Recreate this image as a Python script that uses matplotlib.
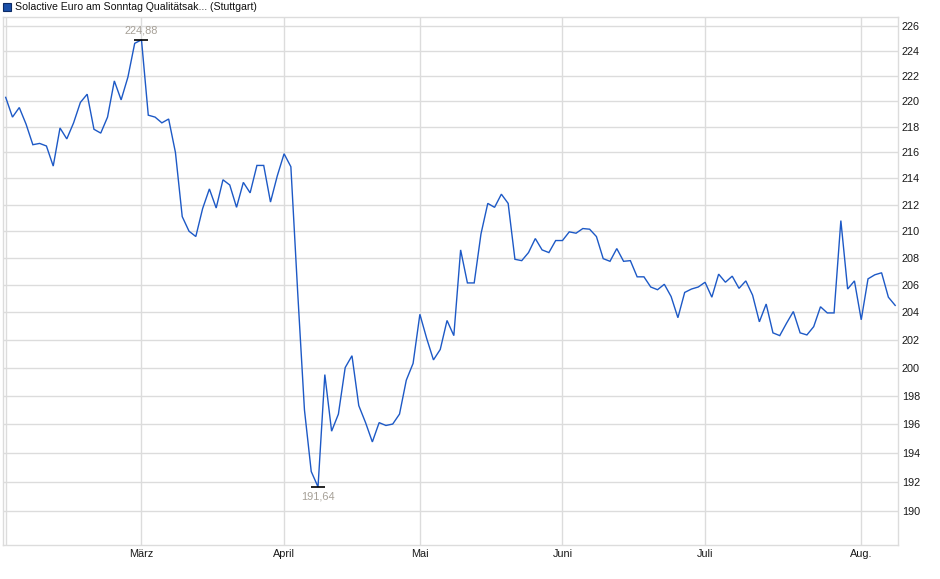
import matplotlib
matplotlib.use("Agg")
import matplotlib.pyplot as plt
from matplotlib.ticker import FixedLocator, NullLocator, NullFormatter
from matplotlib.patches import Rectangle

plt.rcParams['font.family'] = ['Liberation Sans', 'DejaVu Sans']

# ---- data (daily closes, trading days Feb 3 .. Aug 8) ----
values = [
    220.3, 218.75, 219.5, 218.2, 216.6, 216.7, 216.5, 214.95, 217.9, 217.05,
    218.3, 219.9, 220.55, 217.8, 217.5, 218.75, 221.6, 220.1, 221.9, 224.6,
    224.88, 218.9, 218.75, 218.3, 218.6, 216.0, 211.1, 210.0, 209.6, 211.7,
    213.2, 211.75, 213.9, 213.5, 211.8, 213.7, 212.9, 215.0, 215.0, 212.2,
    214.2, 215.9, 214.9, 205.5, 197.0, 192.7, 191.64, 199.5, 195.5, 196.7,
    200.0, 200.85, 197.3, 196.1, 194.75, 196.1, 195.9, 196.0, 196.7, 199.1,
    200.3, 203.85, 202.1, 200.55, 201.3, 203.4, 202.3, 208.6, 206.15, 206.15,
    209.8, 212.1, 211.8, 212.8, 212.1, 207.9, 207.8, 208.4, 209.45, 208.6,
    208.4, 209.3, 209.3, 209.95, 209.85, 210.2, 210.15, 209.6, 207.95, 207.75,
    208.7, 207.75, 207.8, 206.6, 206.6, 205.85, 205.65, 206.05, 205.15, 203.6,
    205.45, 205.7, 205.85, 206.2, 205.1, 206.8, 206.2, 206.65, 205.75, 206.3,
    205.25, 203.3, 204.6, 202.5, 202.3, 203.2, 204.05, 202.5, 202.35, 202.95,
    204.4, 203.95, 203.95, 210.8, 205.7, 206.3, 203.45, 206.45, 206.75, 206.9,
    205.1, 204.5,
]
month_labels = ["März", "April", "Mai", "Juni", "Juli", "Aug."]
month_index = [20, 41, 61, 82, 103, 126]
y_ticks = list(range(190, 227, 2))
title = "Solactive Euro am Sonntag Qualitätsak... (Stuttgart)"
max_label = "224,88"
min_label = "191,64"

W, H = 940, 579
fig = plt.figure(figsize=(W / 100, H / 100), dpi=100)
L, R, T, B = 2.7, 898.3, 16.7, 545.0
ax = fig.add_axes([L / W, 1 - B / H, (R - L) / W, (B - T) / H])

x = list(range(len(values)))
line_color = "#1d59c6"
grid_color = "#dcdcdc"

ax.plot(x, values, color=line_color, lw=1.0, zorder=3, solid_joinstyle='miter')

ax.set_yscale('log')
ax.set_ylim(187.70, 226.75)
ax.set_xlim(-0.44, 131.46)

ax.yaxis.set_major_locator(FixedLocator(y_ticks))
ax.yaxis.set_minor_locator(NullLocator())
ax.yaxis.set_minor_formatter(NullFormatter())
ax.set_yticks(y_ticks)
ax.set_yticklabels([str(v) for v in y_ticks])
ax.yaxis.tick_right()
ax.set_xticks(month_index)
ax.set_xticklabels(month_labels)

ax.tick_params(axis='y', length=0, pad=2.6, labelsize=7.8, colors='#1a1a1a')
ax.tick_params(axis='x', length=0, pad=2.6, labelsize=7.8, colors='#1a1a1a')

ax.grid(True, color=grid_color, lw=1.0, zorder=0)
ax.axvline(0, color=grid_color, lw=1.0, zorder=0)
for s in ax.spines.values():
    s.set_color(grid_color)
    s.set_linewidth(1.0)

# extremes
imax = values.index(max(values))
imin = values.index(min(values))
ann_color = "#a6a097"
ax.plot([imax], [values[imax]], marker='_', ms=10, mew=1.2, color='black', zorder=4)
ax.plot([imin], [values[imin]], marker='_', ms=10, mew=1.2, color='black', zorder=4)
ax.annotate(max_label, (imax, values[imax]), xytext=(0, 9), textcoords='offset pixels',
            ha='center', va='center', fontsize=7.9, color=ann_color, zorder=5)
ax.annotate(min_label, (imin, values[imin]), xytext=(0, -10), textcoords='offset pixels',
            ha='center', va='center', fontsize=7.9, color=ann_color, zorder=5)

# legend-like title
fig.patches.append(Rectangle((3 / W, 1 - 11 / H), 8 / W, 8 / H, transform=fig.transFigure,
                             facecolor="#1a4fa8", edgecolor="#0d2b66", lw=0.8))
fig.text(15 / W, 1 - 7.5 / H, title, ha='left', va='center', fontsize=7.6, color='#111111')

fig.savefig("out.png", dpi=100)
